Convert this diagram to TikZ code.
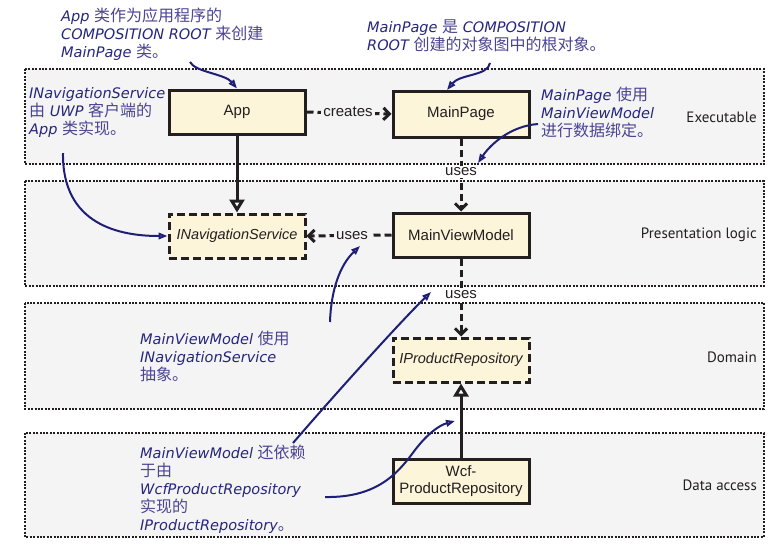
\documentclass[tikz,border=0pt]{standalone}
\usepackage{fontspec}
\setmainfont{Liberation Sans}
\newfontfamily\cjkfont{Noto Sans CJK SC}
\newfontfamily\handfont{DejaVu Sans}
\newfontfamily\layerfont{PT Sans}
\usetikzlibrary{arrows.meta}
\definecolor{ink}{HTML}{231F20}
\definecolor{boxfill}{HTML}{FCF5D9}
\definecolor{layerfill}{HTML}{F4F4F4}
\definecolor{annLatin}{HTML}{26267F}
\definecolor{annHan}{HTML}{4B4593}
\definecolor{annArrow}{HTML}{1F1F78}
\newcommand\LatinA[1]{{\handfont\itshape\color{annLatin}#1}}
\newcommand\Hanzi[1]{{\cjkfont\fontsize{16}{18}\selectfont\color{annHan}#1}}
\tikzset{
  layer/.style={fill=layerfill,draw=ink,line width=2.4pt,dash pattern=on 2pt off 1.4pt},
  layerlabel/.style={font=\layerfont\fontsize{15}{18}\selectfont,text=ink,anchor=east,inner sep=0},
  classbox/.style={draw=ink,fill=boxfill,line width=3pt,minimum width=136pt,minimum height=44pt,
    inner sep=0,font=\fontsize{15}{17}\selectfont,text=ink,align=center},
  ifacebox/.style={classbox,dash pattern=on 8pt off 4pt,font=\fontsize{14.5}{17}\selectfont\itshape},
  depends/.style={draw=ink,line width=3pt,dash pattern=on 7pt off 4pt,
    -{Straight Barb[length=6pt,width=12pt]}},
  implements/.style={draw=ink,line width=3pt,-{Triangle[open,length=13pt,width=15pt,fill=white]}},
  edgelabel/.style={font=\fontsize{15}{17}\selectfont,text=ink,inner sep=2pt},
  annot/.style={anchor=north west,inner sep=0,align=left,font=\handfont\fontsize{14.5}{18}\selectfont},
  annarrow/.style={draw=annArrow,line width=2pt,-{Triangle[open,length=9pt,width=6.5pt,fill=white]}}
}
\begin{document}
\begin{tikzpicture}[x=1pt,y=-1pt]
\useasboundingbox (0,0) rectangle (775,551);
\fill[white] (0,0) rectangle (775,551);
% layers
\path[layer] (25,69) rectangle (764,164);
\path[layer] (25,181) rectangle (764,286);
\path[layer] (25,303) rectangle (764,409);
\path[layer] (25,433) rectangle (764,537);
\node[layerlabel] (lExec) at (757,117) {Executable};
\node[layerlabel] (lPres) at (757,235) {Presentation logic};
\node[layerlabel] (lDom) at (757,357) {Domain};
\node[layerlabel] (lData) at (757,485) {Data access};
% classes
\node[classbox] (app) at (237,112) {App};
\node[classbox,minimum height=46pt] (mainpage) at (461,114) {MainPage};
\node[ifacebox] (inav) at (237,236) {INavigationService};
\node[classbox] (mvm) at (461,235) {MainViewModel};
\node[ifacebox] (iprod) at (461,360) {IProductRepository};
\node[classbox] (wcf) at (461,481) {Wcf-\\ProductRepository};
% edge label positions
\coordinate (lcreates) at (348,112);
\coordinate (luses1) at (461,172);
\coordinate (luses2) at (352,236);
\coordinate (luses3) at (461,295);
% dependencies
\draw[depends] (app.east) -- (mainpage.west);
\draw[depends] (mainpage.south) -- (mvm.north);
\draw[depends] (mvm.west) -- (inav.east);
\draw[depends] (mvm.south) -- (iprod.north);
\node[edgelabel,fill=layerfill] (tcreates) at (lcreates) {creates};
\node[edgelabel,fill=white] (tuses1) at (luses1) {uses};
\node[edgelabel,fill=layerfill] (tuses2) at (luses2) {uses};
\node[edgelabel,fill=white] (tuses3) at (luses3) {uses};
\draw[implements] (app.south) -- (inav.north);
\draw[implements] (wcf.north) -- (iprod.south);
% annotations
\node[annot] (a1) at (61,8) {\LatinA{App} \Hanzi{类作为应用程序的}\\
  \LatinA{COMPOSITION ROOT} \Hanzi{来创建}\\
  \LatinA{MainPage} \Hanzi{类。}};
\node[annot] (a2) at (367,20) {\LatinA{MainPage} \Hanzi{是} \LatinA{COMPOSITION}\\
  \LatinA{ROOT} \Hanzi{创建的对象图中的根对象。}};
\node[annot] (a3) at (29,87) {\LatinA{INavigationService}\\
  \Hanzi{由} \LatinA{UWP} \Hanzi{客户端的}\\
  \LatinA{App} \Hanzi{类实现。}};
\node[annot] (a4) at (541,87) {\LatinA{MainPage} \Hanzi{使用}\\
  \LatinA{MainViewModel}\\
  \Hanzi{进行数据绑定。}};
\node[annot] (a5) at (140,331) {\LatinA{MainViewModel} \Hanzi{使用}\\
  \LatinA{INavigationService}\\
  \Hanzi{抽象。}};
\node[annot] (a6) at (140,445) {\LatinA{MainViewModel} \Hanzi{还依赖}\\
  \Hanzi{于由}\\
  \LatinA{WcfProductRepository}\\
  \Hanzi{实现的}\\
  \LatinA{IProductRepository}\Hanzi{。}};
% annotation arrows
\coordinate (s1) at (190,62);
\coordinate (s2) at (490,63);
\coordinate (e2) at (447,90);
\coordinate (s3) at (63,153);
\coordinate (s4) at (538,124);
\coordinate (e4) at (478,163);
\coordinate (s5) at (330,322);
\coordinate (e5) at (360,246);
\coordinate (s6) at (293,443);
\coordinate (e6) at (431,292);
\coordinate (s7) at (325,497);
\coordinate (m7) at (415,450);
\coordinate (e7) at (455,421);
\draw[annarrow] (s1) .. controls (195,72) and (225,74) .. (app.north);
\draw[annarrow] (s2) .. controls (488,76) and (460,74) .. (e2);
\draw[annarrow] (s3) .. controls (62,225) and (120,236) .. (inav.west);
\draw[annarrow] (s4) .. controls (510,126) and (490,145) .. (e4);
\draw[annarrow] (s5) .. controls (331,290) and (340,265) .. (e5);
\draw[annarrow] (s6) .. controls (330,400) and (400,322) .. (e6);
\draw[annarrow] (s7) .. controls (380,498) and (400,470) .. (m7) .. controls (428,433) and (440,425) .. (e7);
\end{tikzpicture}
\end{document}
